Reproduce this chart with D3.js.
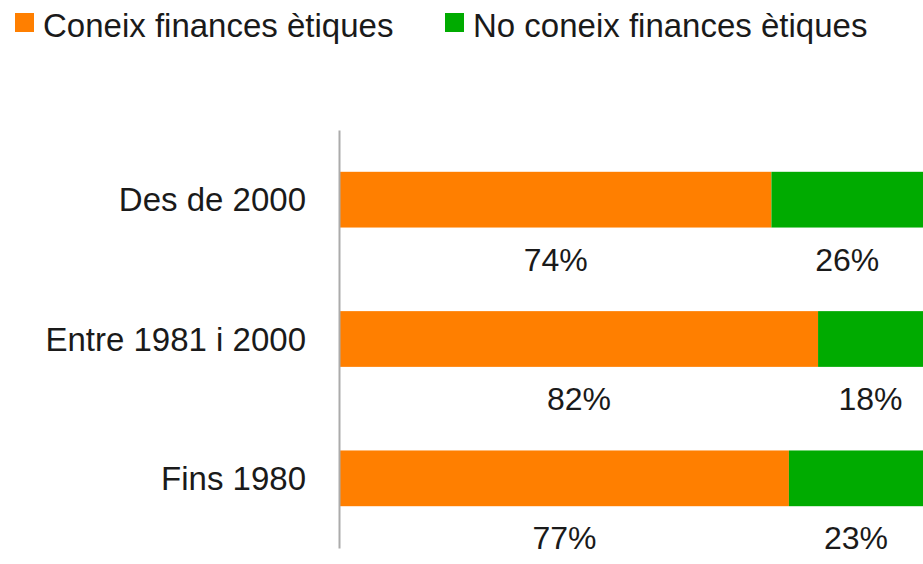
<!DOCTYPE html>
<html>
<head>
<meta charset="utf-8">
<script src="https://cdn.jsdelivr.net/npm/d3@7"></script>
<style>
  body { margin: 0; background: #fff; }
  svg text { font-family: "Liberation Sans", Arial, sans-serif; fill: #1a1a1a; }
</style>
</head>
<body>
<div id="chart"></div>
<script>
// data
var categories = ["Des de 2000", "Entre 1981 i 2000", "Fins 1980"];
var knows = [74, 82, 77];
var doesNotKnow = [26, 18, 23];
var seriesNames = ["Coneix finances ètiques", "No coneix finances ètiques"];
var colors = ["#ff7f00", "#00ab00"];

var svgWidth = 923;
var svgHeight = 564;

var svg = d3.select("#chart")
  .append("svg")
  .attr("width", svgWidth)
  .attr("height", svgHeight);

// scales
var xScale = d3.scaleLinear()
  .domain([0, 100])
  .range([340, 923]);

var yScale = d3.scaleBand()
  .domain(categories)
  .range([130, 548])
  .paddingInner(0.6)
  .paddingOuter(0.3);

var rows = categories.map(function(c, i) {
  return { cat: c, values: [knows[i], doesNotKnow[i]] };
});

var stack = d3.stack().keys([0, 1]).value(function(d, k) { return d.values[k]; });
var stacked = stack(rows);

// bars
var layers = svg.selectAll(".layer")
  .data(stacked)
  .enter()
  .append("g")
  .attr("class", "layer")
  .attr("fill", function(d, i) { return colors[i]; });

layers.selectAll("rect")
  .data(function(d) { return d; })
  .enter()
  .append("rect")
  .attr("x", function(d) { return xScale(d[0]); })
  .attr("y", function(d) { return yScale(d.data.cat); })
  .attr("width", function(d) { return xScale(d[1]) - xScale(d[0]); })
  .attr("height", yScale.bandwidth());

// value labels under each segment
layers.selectAll("text")
  .data(function(d) { return d; })
  .enter()
  .append("text")
  .attr("x", function(d) { return (xScale(d[0]) + xScale(d[1])) / 2; })
  .attr("y", function(d) { return yScale(d.data.cat) + yScale.bandwidth() + 43; })
  .attr("text-anchor", "middle")
  .style("font-size", "32px")
  .text(function(d) { return (d[1] - d[0]) + "%"; });

// category axis
var leftAxis = d3.axisLeft(yScale).tickSize(0).tickPadding(33);
var axisG = svg.append("g")
  .attr("transform", "translate(339,0)")
  .call(leftAxis);
axisG.select(".domain")
  .attr("stroke", "#ababab")
  .attr("stroke-width", 2);
axisG.selectAll("text")
  .style("font-size", "33px")
  .attr("dy", "0.35em");

// legend
var legendX = [15, 445];
var legend = svg.selectAll(".legend")
  .data(seriesNames)
  .enter()
  .append("g")
  .attr("class", "legend")
  .attr("transform", function(d, i) { return "translate(" + legendX[i] + ",13)"; });

legend.append("rect")
  .attr("width", 19)
  .attr("height", 19)
  .attr("fill", function(d, i) { return colors[i]; });

legend.append("text")
  .attr("x", 28)
  .attr("y", 24)
  .style("font-size", "33px")
  .text(function(d) { return d; });
</script>
</body>
</html>
